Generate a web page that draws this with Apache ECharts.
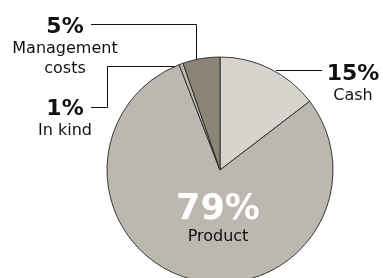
<!DOCTYPE html>
<html>
<head>
<meta charset="utf-8">
<script src="https://cdn.jsdelivr.net/npm/echarts@6/dist/echarts.min.js"></script>
<style>
  html, body { margin: 0; padding: 0; background: #fff; }
  #main { width: 383px; height: 278px; }
</style>
</head>
<body>
<div id="main"></div>
<script>
// slices, clockwise from 12 o'clock
var names = ["Cash", "Product", "In kind", "Management\ncosts"];
var values = [14.6, 79.5, 0.6, 5.3];
var pctLabels = ["15%", "79%", "1%", "5%"];
var colors = ["#d7d4ce", "#bcb8b0", "#bcb8b0", "#8b8477"];

var chart = echarts.init(document.getElementById("main"));

// where each label goes and how its leader line runs (half pixels keep the lines crisp)
var labelPos = [
  { x: 353, y: 62, line: [[276, 70.5], [322, 70.5]] },
  { x: 218, y: 193, line: null },
  { x: 65, y: 97, line: [[180, 66.5], [107.5, 66.5], [107.5, 107.5], [91, 107.5]] },
  { x: 65, y: 15, line: [[196.5, 60], [196.5, 24.5], [91, 24.5]] }
];

var data = [];
for (var i = 0; i < names.length; i++) {
  var item = {
    name: names[i],
    value: values[i],
    itemStyle: { color: colors[i] }
  };
  if (i == 1) {
    item.label = {
      formatter: "{big|" + pctLabels[i] + "}\n{small|" + names[i] + "}"
    };
    item.labelLine = { show: false };
  } else {
    item.label = {
      formatter: "{p|" + pctLabels[i] + "}\n{n|" + names[i].split("\n").join("}\n{n|") + "}"
    };
  }
  data.push(item);
}

var option = {
  animation: false,
  series: [
    {
      type: "pie",
      center: [220, 170],
      radius: 113,
      startAngle: 90,
      clockwise: true,
      avoidLabelOverlap: false,
      itemStyle: { borderColor: "#262626", borderWidth: 0.9 },
      label: {
        show: true,
        position: "outside",
        fontFamily: "DejaVu Sans",
        align: "center",
        rich: {
          p: { fontSize: 22, fontWeight: "bold", color: "#111", lineHeight: 24, fontFamily: "DejaVu Sans" },
          n: { fontSize: 16, color: "#111", lineHeight: 20, fontFamily: "DejaVu Sans" },
          big: { fontSize: 35, fontWeight: "bold", color: "#fff", lineHeight: 34, fontFamily: "DejaVu Sans" },
          small: { fontSize: 16, color: "#111", lineHeight: 20, fontFamily: "DejaVu Sans" }
        }
      },
      labelLine: { show: true, lineStyle: { color: "#111", width: 1 } },
      labelLayout: function(params) {
        var p = labelPos[params.dataIndex];
        var res = { x: p.x, y: p.y, align: "center", verticalAlign: "top" };
        if (p.line) {
          res.labelLinePoints = p.line;
        }
        return res;
      },
      data: data
    }
  ]
};
chart.setOption(option);
</script>
</body>
</html>
